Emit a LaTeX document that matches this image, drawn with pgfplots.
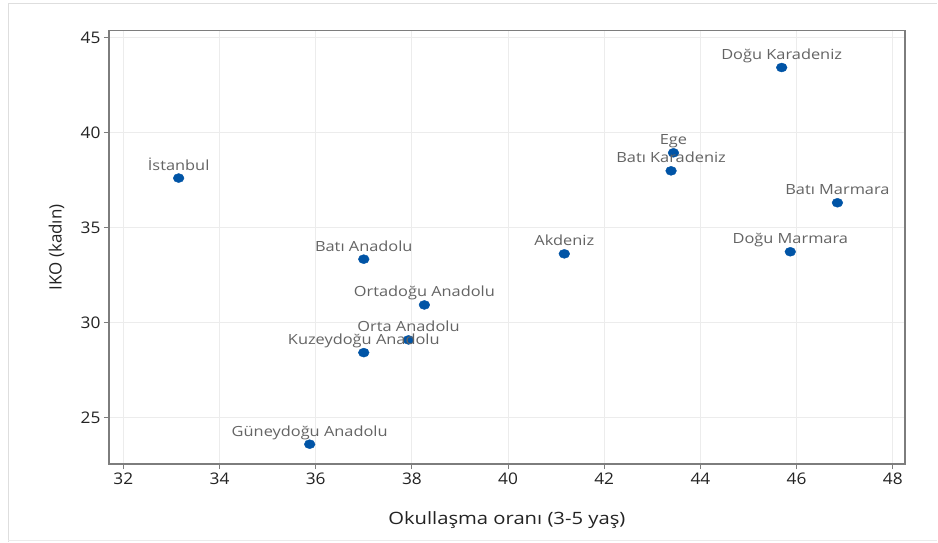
\documentclass[border=0pt]{standalone}
\usepackage{fontspec}
\setmainfont{Open Sans}
\newfontfamily\lblfont[FakeStretch=1.17]{Open Sans}
\newfontfamily\tickfont[FakeStretch=1.08]{Open Sans}
\newfontfamily\axfont[FakeStretch=1.19]{Open Sans}
\usepackage{pgfplots}
\pgfplotsset{compat=1.18}
\definecolor{ptblue}{RGB}{0,84,166}
\definecolor{gridc}{RGB}{236,236,236}
\definecolor{axc}{RGB}{125,125,125}
\definecolor{lblc}{RGB}{100,100,100}
\definecolor{txtc}{RGB}{35,35,35}
\definecolor{framec}{RGB}{222,222,222}
\begin{document}
\begin{tikzpicture}
\path[fill=white] (0pt,0pt) rectangle (938pt,542pt);
\draw[framec, line width=1.5pt] (8.5pt,0pt) -- (8.5pt,538.5pt) -- (938pt,538.5pt);
\draw[framec!60, line width=1pt] (8.5pt,1.5pt) -- (938pt,1.5pt);
\begin{axis}[
  at={(109pt,77.5pt)}, anchor=south west,
  scale only axis, width=796.5pt, height=434pt,
  xmin=31.70, xmax=48.25, ymin=22.54, ymax=45.37,
  xtick={32,34,...,48}, ytick={25,30,...,45},
  xtick pos=left, ytick pos=left,
  grid=major, grid style={gridc, line width=1pt},
  axis line style={axc, line width=1.5pt},
  tick style={axc, line width=1pt}, tick align=outside, major tick length=5pt,
  ticklabel style={font=\tickfont\fontsize{16}{18}\selectfont, color=txtc},
  /pgf/number format/assume math mode=true,
  xlabel={Okullaşma oranı (3-5 yaş)}, ylabel={IKO (kadın)},
  label style={font=\fontsize{17}{20}\selectfont, color=txtc},
  xlabel style={at={(axis description cs:0.5,-0.1279)}, anchor=center, font=\axfont\fontsize{17}{20}\selectfont},
  ylabel style={at={(axis description cs:-0.0657,0.5)}, anchor=center},
]
\addplot[only marks, mark=*, mark size=4.5pt, mark options={fill=ptblue, draw=ptblue, xscale=1.2},
  point meta=explicit symbolic, nodes near coords,
  every node near coord/.append style={anchor=base, yshift=8pt, inner sep=0pt,
    font=\lblfont\fontsize{14}{16}\selectfont, color=lblc}]
coordinates {
(33.15,37.60) [İstanbul]
(45.69,43.42) [Doğu Karadeniz]
(43.44,38.93) [Ege]
(43.39,37.98) [Batı Karadeniz]
(46.85,36.30) [Batı Marmara]
(45.87,33.72) [Doğu Marmara]
(41.17,33.61) [Akdeniz]
(37.00,33.33) [Batı Anadolu]
(38.26,30.92) [Ortadoğu Anadolu]
(37.93,29.08) [Orta Anadolu]
(37.00,28.41) [Kuzeydoğu Anadolu]
(35.875,23.59) [Güneydoğu Anadolu]
};
\end{axis}
\end{tikzpicture}
\end{document}
